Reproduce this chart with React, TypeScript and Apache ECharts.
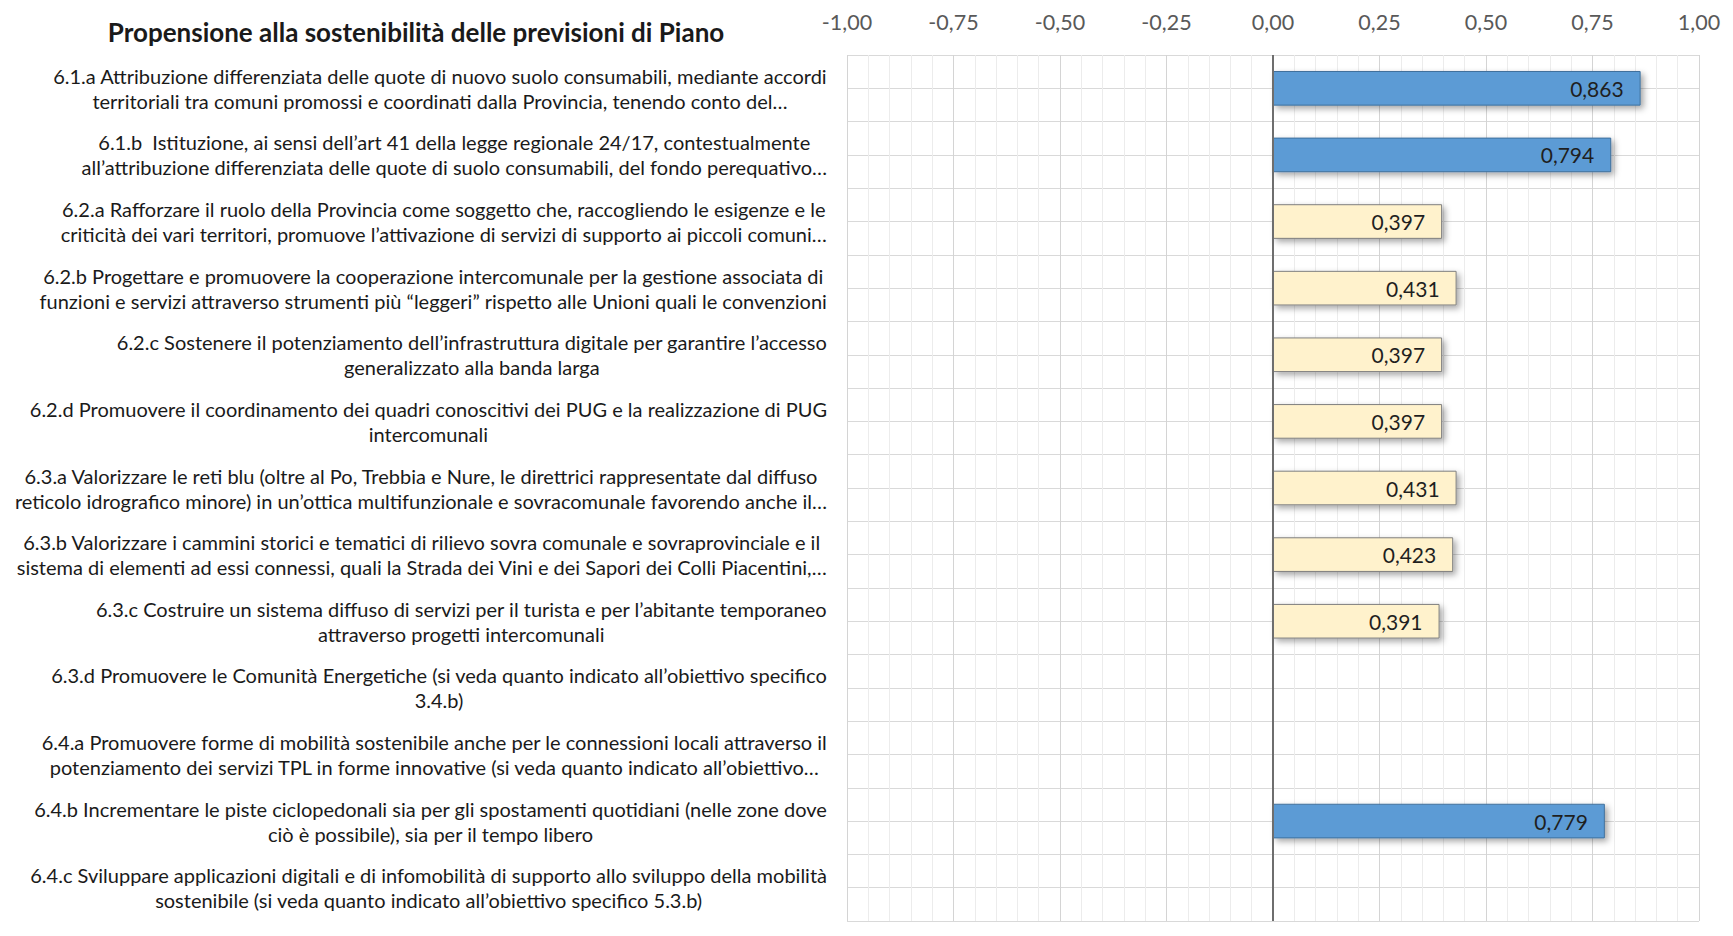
import React, { useEffect, useRef } from "react";
import * as echarts from "echarts";

const TITLE = "Propensione alla sostenibilità delle previsioni di Piano";

const categoryLines: string[][] = [
  ["6.1.a Attribuzione differenziata delle quote di nuovo suolo consumabili, mediante accordi", "territoriali tra comuni promossi e coordinati dalla Provincia, tenendo conto del…"],
  ["6.1.b  Istituzione, ai sensi dell’art 41 della legge regionale 24/17, contestualmente", "all’attribuzione differenziata delle quote di suolo consumabili, del fondo perequativo…"],
  ["6.2.a Rafforzare il ruolo della Provincia come soggetto che, raccogliendo le esigenze e le", "criticità dei vari territori, promuove l’attivazione di servizi di supporto ai piccoli comuni…"],
  ["6.2.b Progettare e promuovere la cooperazione intercomunale per la gestione associata di", "funzioni e servizi attraverso strumenti più “leggeri” rispetto alle Unioni quali le convenzioni"],
  ["6.2.c Sostenere il potenziamento dell’infrastruttura digitale per garantire l’accesso", "generalizzato alla banda larga"],
  ["6.2.d Promuovere il coordinamento dei quadri conoscitivi dei PUG e la realizzazione di PUG", "intercomunali"],
  ["6.3.a Valorizzare le reti blu (oltre al Po, Trebbia e Nure, le direttrici rappresentate dal diffuso", "reticolo idrografico minore) in un’ottica multifunzionale e sovracomunale favorendo anche il…"],
  ["6.3.b Valorizzare i cammini storici e tematici di rilievo sovra comunale e sovraprovinciale e il", "sistema di elementi ad essi connessi, quali la Strada dei Vini e dei Sapori dei Colli Piacentini,…"],
  ["6.3.c Costruire un sistema diffuso di servizi per il turista e per l’abitante temporaneo", "attraverso progetti intercomunali"],
  ["6.3.d Promuovere le Comunità Energetiche (si veda quanto indicato all’obiettivo specifico", "3.4.b)"],
  ["6.4.a Promuovere forme di mobilità sostenibile anche per le connessioni locali attraverso il", "potenziamento dei servizi TPL in forme innovative (si veda quanto indicato all’obiettivo…"],
  ["6.4.b Incrementare le piste ciclopedonali sia per gli spostamenti quotidiani (nelle zone dove", "ciò è possibile), sia per il tempo libero"],
  ["6.4.c Sviluppare applicazioni digitali e di infomobilità di supporto allo sviluppo della mobilità", "sostenibile (si veda quanto indicato all’obiettivo specifico 5.3.b)"],
];

const categories: string[] = categoryLines.map((l) => l.join("\n"));

const values: (number | null)[] = [0.863, 0.794, 0.397, 0.431, 0.397, 0.397, 0.431, 0.423, 0.391, null, null, 0.779, null];

const highlighted: boolean[] = [true, true, false, false, false, false, false, false, false, false, false, true, false];

const AXIS_MIN = -1;
const AXIS_MAX = 1;
const AXIS_STEP = 0.25;

const FONT = "Lato, 'Liberation Sans', sans-serif";

const fmt = (v: number, d: number) => v.toFixed(d).replace(".", ",");

export default function App() {
  const ref = useRef<HTMLDivElement>(null);

  useEffect(() => {
    if (!ref.current) return;
    const chart = echarts.init(ref.current, undefined, { renderer: "svg" });

    const shadow = {
      shadowBlur: 6,
      shadowOffsetX: 3,
      shadowOffsetY: 3,
      shadowColor: "rgba(0,0,0,0.35)",
    };
    const blueStyle = { color: "#5B9BD5", borderColor: "#41719C", borderWidth: 1, ...shadow };
    const yellowStyle = { color: "#FFF2CC", borderColor: "#7F7F7F", borderWidth: 1, ...shadow };

    const barData = values.map((v, i) =>
      v == null ? null : { value: v, itemStyle: highlighted[i] ? blueStyle : yellowStyle }
    );

    const halfRows: string[] = [];
    categories.forEach((_, i) => {
      halfRows.push("a" + i, "b" + i);
    });

    chart.setOption({
      animation: false,
      backgroundColor: "#ffffff",
      title: {
        text: TITLE,
        left: 411,
        top: 14,
        textAlign: "center",
        textStyle: { fontFamily: FONT, fontSize: 26, fontWeight: "bold", color: "#1a1a1a" },
      },
      grid: { left: 847, right: 34, top: 55, bottom: 15, containLabel: false },
      xAxis: {
        type: "value",
        position: "top",
        min: AXIS_MIN,
        max: AXIS_MAX,
        interval: AXIS_STEP,
        axisLine: { show: false },
        axisTick: { show: false },
        axisLabel: {
          margin: 22,
          color: "#595959",
          fontFamily: FONT,
          fontSize: 21.5,
          formatter: (v: number) => fmt(v, 2),
        },
        splitLine: { show: true, lineStyle: { color: "#D4D4D4", width: 1 } },
        minorTick: { show: false, splitNumber: 5 },
        minorSplitLine: { show: true, lineStyle: { color: "#ECECEC", width: 1 } },
      },
      yAxis: [
        {
          type: "category",
          inverse: true,
          data: categories,
          axisLine: { show: false },
          axisTick: { show: false },
          splitLine: { show: false },
          axisLabel: {
            margin: 20,
            align: "right",
            interval: 0,
            formatter: (v: string) =>
              v
                .split("\n")
                .map((l) => "{c|" + l + "}")
                .join("\n"),
            rich: {
              c: {
                align: "center",
                fontFamily: FONT,
                fontSize: 20,
                lineHeight: 25,
                color: "#1a1a1a",
              },
            },
          },
        },
        {
          type: "category",
          inverse: true,
          data: halfRows,
          position: "right",
          axisLine: { show: false },
          axisTick: { show: false },
          axisLabel: { show: false },
          splitLine: { show: true, lineStyle: { color: "#D9D9D9", width: 1 } },
        },
      ],
      series: [
        {
          type: "bar",
          yAxisIndex: 0,
          data: barData,
          barWidth: "52%",
          label: {
            show: true,
            position: "insideRight",
            distance: 17,
            fontFamily: FONT,
            fontSize: 21,
            color: "#1f1f1f",
            formatter: (p: any) => fmt(p.value as number, 3),
          },
          markLine: {
            silent: true,
            symbol: "none",
            label: { show: false },
            lineStyle: { color: "#6E6E6E", width: 2, type: "solid" },
            data: [{ xAxis: 0 }],
          },
        },
      ],
    });

    return () => chart.dispose();
  }, []);

  return (
    <div
      ref={ref}
      style={{ position: "fixed", left: 0, top: 0, width: 1733, height: 936, background: "#fff" }}
    />
  );
}
